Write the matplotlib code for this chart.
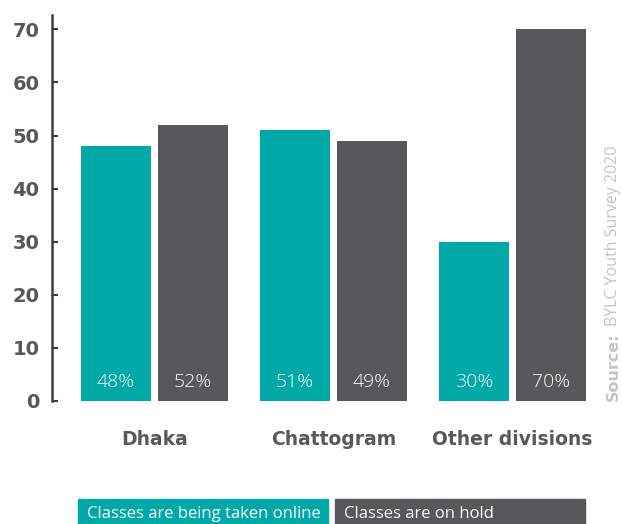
import matplotlib
matplotlib.use("Agg")
import matplotlib.pyplot as plt
from matplotlib.patches import Rectangle
import numpy as np

regions = ["Dhaka", "Chattogram", "Other divisions"]
online = [48, 51, 30]
on_hold = [52, 49, 70]
series_names = ["Classes are being taken online", "Classes are on hold"]
y_ticks = [0, 10, 20, 30, 40, 50, 60, 70]

teal = "#00a8a8"
dark = "#58585a"
grey_txt = "#58585a"

W, H = 622, 524
fig = plt.figure(figsize=(W / 100, H / 100), dpi=100)
ax = fig.add_axes([52 / W, 123 / H, 548 / W, 386 / H])

x = np.arange(len(regions))
bw = 0.391
off = 0.215
b1 = ax.bar(x - off, online, bw, color=teal)
b2 = ax.bar(x + off, on_hold, bw, color=dark)

for bars, vals in ((b1, online), (b2, on_hold)):
    for b, v in zip(bars, vals):
        ax.text(b.get_x() + b.get_width() / 2, 3.5, f"{v}%", ha="center",
                va="center", color="white", fontsize=14, family="Open Sans",
                weight="light")

ax.set_xlim(-0.573, 2.489)
ax.set_ylim(0, 72.7)
ax.set_yticks(y_ticks)
ax.set_xticks(x)
ax.set_xticklabels(regions)

for s in ("top", "right", "bottom"):
    ax.spines[s].set_visible(False)
ax.spines["left"].set_linewidth(1.8)
ax.spines["left"].set_color("#3c3c3e")
ax.tick_params(axis="y", direction="in", length=4.5, width=1.5, color="#3c3c3e",
               pad=9, labelsize=14, labelcolor=grey_txt)
ax.tick_params(axis="x", length=0, pad=21, labelsize=13.5, labelcolor=grey_txt)
for lab in ax.get_yticklabels() + ax.get_xticklabels():
    lab.set_fontweight("bold")
    lab.set_family("DejaVu Sans")

# legend boxes along the bottom edge
for (x0, x1), col, name in (((78, 328), teal, series_names[0]),
                            ((335, 585), dark, series_names[1])):
    fig.patches.append(Rectangle((x0 / W, 0), (x1 - x0) / W, 25 / H,
                                 transform=fig.transFigure, color=col))
    fig.text((x0 + 9) / W, 2 / H, name, ha="left", va="bottom", color="white",
             fontsize=12, family="Open Sans")

# rotated source note
src_col = "#c4c4c4"
t1 = fig.text(613 / W, 123 / H, "Source:", rotation=90, ha="center",
              va="bottom", color=src_col, fontsize=11.5, weight="bold",
              family="DejaVu Sans")
fig.canvas.draw()
bb = t1.get_window_extent()
fig.text(613 / W, (bb.y1 + 6) / H, "BYLC Youth Survey 2020", rotation=90,
         ha="center", va="bottom", color=src_col, fontsize=11.5,
         family="Open Sans")

fig.savefig("out.png", dpi=100)
